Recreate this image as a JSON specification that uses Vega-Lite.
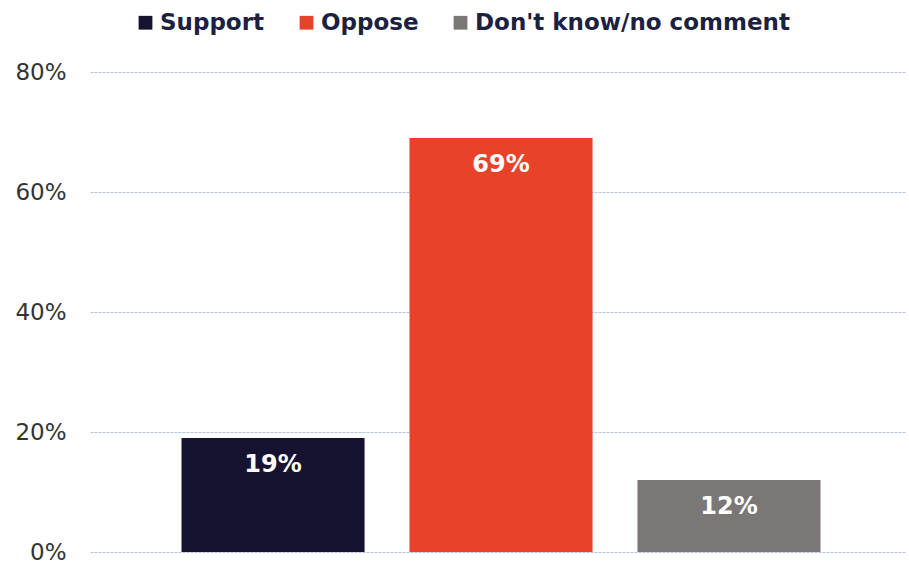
{
  "$schema": "https://vega.github.io/schema/vega-lite/v6.json",
  "width": 815,
  "height": 480,
  "autosize": {"type": "none"},
  "padding": {"left": 90, "top": 72, "right": 4, "bottom": 13},
  "background": "white",
  "data": {"values": [
    {"response": "Support", "value": 19, "label": "19%"},
    {"response": "Oppose", "value": 69, "label": "69%"},
    {"response": "Don't know/no comment", "value": 12, "label": "12%"}
  ]},
  "config": {"view": {"stroke": null}, "font": "DejaVu Sans"},
  "encoding": {
    "x": {"field": "response", "type": "nominal", "sort": null,
      "scale": {"paddingInner": 0.197, "paddingOuter": 0.386, "align": 0.52},
      "axis": null},
    "y": {"field": "value", "type": "quantitative",
      "scale": {"domain": [0, 80], "nice": false},
      "axis": {"values": [0, 20, 40, 60, 80], "labelExpr": "datum.value + '%'", "title": null,
        "domain": false, "ticks": false, "labelPadding": 24, "labelFontSize": 23,
        "labelColor": "#333333", "labelFont": "DejaVu Sans",
        "grid": true, "gridColor": "#b9c5d6", "gridWidth": 1, "gridDash": [3, 1]}}
  },
  "layer": [
    {
      "mark": {"type": "bar"},
      "encoding": {
        "color": {"field": "response", "type": "nominal",
          "scale": {"domain": ["Support", "Oppose", "Don't know/no comment"], "range": ["#15132f", "#e8432a", "#7b7776"]},
          "legend": {"orient": "none", "legendX": 44, "legendY": -61, "direction": "horizontal", "title": null,
            "symbolType": "square", "symbolSize": 190, "symbolStrokeWidth": 0, "symbolOffset": 0,
            "labelFontSize": 23, "labelFontWeight": "bold", "labelColor": "#1c2140", "labelFont": "DejaVu Sans",
            "labelLimit": 500, "columnPadding": 30, "labelOffset": 3}}
      }
    },
    {
      "mark": {"type": "text", "baseline": "middle", "align": "center", "dy": 27, "fontSize": 24, "fontWeight": "bold", "color": "white", "font": "DejaVu Sans"},
      "encoding": {"text": {"field": "label"}}
    }
  ]
}
